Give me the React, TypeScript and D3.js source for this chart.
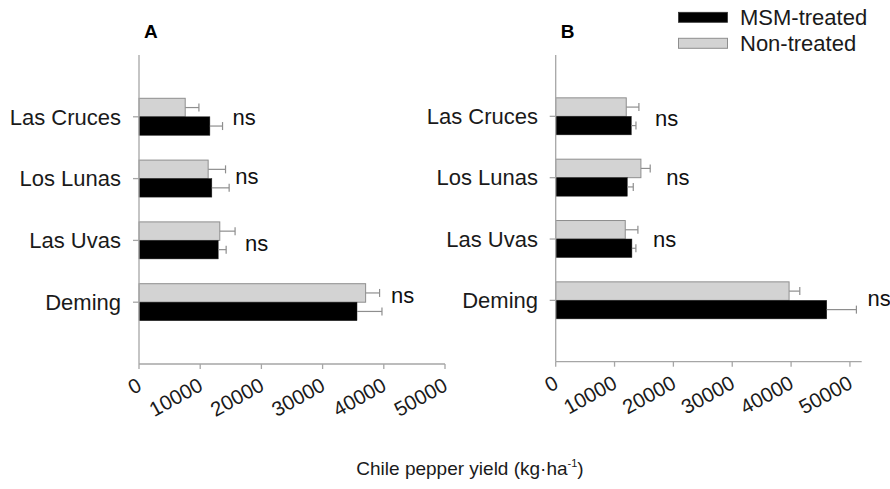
import React from "react";
import * as d3 from "d3";

const categories = ["Las Cruces", "Los Lunas", "Las Uvas", "Deming"];
const xTicks = [0, 10000, 20000, 30000, 40000, 50000];

const msmA = [11580, 11900, 12940, 35620];
const msmErrA = [2070, 2830, 1300, 4080];
const nonA = [7550, 11300, 13200, 37030];
const nonErrA = [2240, 2840, 2500, 2280];
const sigA = ["ns", "ns", "ns", "ns"];

const msmB = [12840, 12160, 12950, 46060];
const msmErrB = [800, 1020, 680, 5040];
const nonB = [11990, 14480, 11820, 39660];
const nonErrB = [2150, 1580, 2150, 1820];
const sigB = ["ns", "ns", "ns", "ns"];

const FONT = "'Liberation Sans', Arial, sans-serif";
const AXIS = "#a6a6a6";
const GRAY_FILL = "#d3d3d3";
const GRAY_STROKE = "#8e8e8e";
const ERR = "#8e8e8e";

type PanelProps = {
  label: string;
  x0: number;
  x1: number;
  xMax: number;
  yTop: number;
  yBottom: number;
  labelRight: number;
  msm: number[];
  msmErr: number[];
  non: number[];
  nonErr: number[];
  sig: string[];
  sigPad: number[];
  sigDy: number[];
};

function Panel(p: PanelProps) {
  const x = d3.scaleLinear().domain([0, p.xMax]).range([p.x0, p.x1]);
  const y = d3.scalePoint<string>().domain(categories).range([p.yTop, p.yBottom]).padding(1);
  const bh = 18.5;
  const cap = 4;
  return (
    <g>
      <text x={p.x0 + 5} y={38} fontFamily={FONT} fontWeight="bold" fontSize={19} fill="#000">
        {p.label}
      </text>
      {categories.map((c, i) => {
        const cy = y(c)!;
        const nEnd = x(p.non[i]);
        const mEnd = x(p.msm[i]);
        const nErrEnd = x(p.non[i] + p.nonErr[i]);
        const mErrEnd = x(p.msm[i] + p.msmErr[i]);
        const maxEnd = Math.max(nErrEnd, mErrEnd);
        return (
          <g key={c}>
            <rect x={x(0)} y={cy - bh} width={nEnd - x(0)} height={bh} fill={GRAY_FILL} stroke={GRAY_STROKE} strokeWidth={1} />
            <rect x={x(0)} y={cy} width={mEnd - x(0)} height={bh} fill="#000" stroke="#222" strokeWidth={0.5} />
            <line x1={nEnd} x2={nErrEnd} y1={cy - bh / 2} y2={cy - bh / 2} stroke={ERR} strokeWidth={1.2} />
            <line x1={nErrEnd} x2={nErrEnd} y1={cy - bh / 2 - cap} y2={cy - bh / 2 + cap} stroke={ERR} strokeWidth={1.2} />
            <line x1={mEnd} x2={mErrEnd} y1={cy + bh / 2} y2={cy + bh / 2} stroke={ERR} strokeWidth={1.2} />
            <line x1={mErrEnd} x2={mErrEnd} y1={cy + bh / 2 - cap} y2={cy + bh / 2 + cap} stroke={ERR} strokeWidth={1.2} />
            <text x={maxEnd + p.sigPad[i]} y={cy + p.sigDy[i]} dy="0.35em" fontFamily={FONT} fontSize={22} fill="#111">
              {p.sig[i]}
            </text>
          </g>
        );
      })}
      <line x1={p.x0} x2={p.x0} y1={p.yTop} y2={p.yBottom} stroke={AXIS} strokeWidth={1.3} />
      {categories.map((c) => (
        <g key={"yt" + c}>
          <line x1={p.x0 - 6} x2={p.x0} y1={y(c)!} y2={y(c)!} stroke={AXIS} strokeWidth={1.3} />
          <text x={p.labelRight} y={y(c)!} dy="0.35em" textAnchor="end" fontFamily={FONT} fontSize={22} fill="#1a1a1a">
            {c}
          </text>
        </g>
      ))}
      <line x1={p.x0} x2={p.x1} y1={p.yBottom} y2={p.yBottom} stroke={AXIS} strokeWidth={1.3} />
      {xTicks.map((t) => (
        <g key={"xt" + t}>
          <line x1={x(t)} x2={x(t)} y1={p.yBottom} y2={p.yBottom + 5} stroke={AXIS} strokeWidth={1.3} />
          <text
            transform={`translate(${x(t) + 4},${p.yBottom + 25.5}) rotate(-29)`}
            textAnchor="end"
            fontFamily={FONT}
            fontSize={20.5}
            fill="#1a1a1a"
          >
            {t}
          </text>
        </g>
      ))}
    </g>
  );
}

export default function App() {
  return (
    <svg width={890} height={489} style={{ position: "absolute", left: 0, top: 0, background: "#fff" }}>
      <rect x={0} y={0} width={890} height={489} fill="#fff" />
      <Panel
        label="A"
        x0={139}
        x1={445}
        xMax={50000}
        yTop={55}
        yBottom={364}
        labelRight={121}
        msm={msmA}
        msmErr={msmErrA}
        non={nonA}
        nonErr={nonErrA}
        sig={sigA}
        sigPad={[10, 6, 10, 9]}
        sigDy={[0, -2, 3, -7]}
      />
      <Panel
        label="B"
        x0={555.7}
        x1={861.7}
        xMax={52000}
        yTop={55}
        yBottom={361.7}
        labelRight={538}
        msm={msmB}
        msmErr={msmErrB}
        non={nonB}
        nonErr={nonErrB}
        sig={sigB}
        sigPad={[16, 16, 15, 11]}
        sigDy={[2, 0, 0, -2]}
      />
      <g>
        <rect x={678.5} y={12.3} width={49} height={10} fill="#000" stroke="#333" strokeWidth={0.8} />
        <text x={740} y={17} dy="0.35em" fontFamily={FONT} fontSize={22} fill="#1a1a1a">MSM-treated</text>
        <rect x={678.5} y={38.3} width={49} height={10} fill={GRAY_FILL} stroke={GRAY_STROKE} strokeWidth={1} />
        <text x={740} y={43} dy="0.35em" fontFamily={FONT} fontSize={22} fill="#1a1a1a">Non-treated</text>
      </g>
      <text x={470} y={475} textAnchor="middle" fontFamily={FONT} fontSize={19} fill="#1a1a1a">
        Chile pepper yield (kg·ha
        <tspan dy={-8} fontSize={11}>-1</tspan>
        <tspan dy={8}>)</tspan>
      </text>
    </svg>
  );
}
